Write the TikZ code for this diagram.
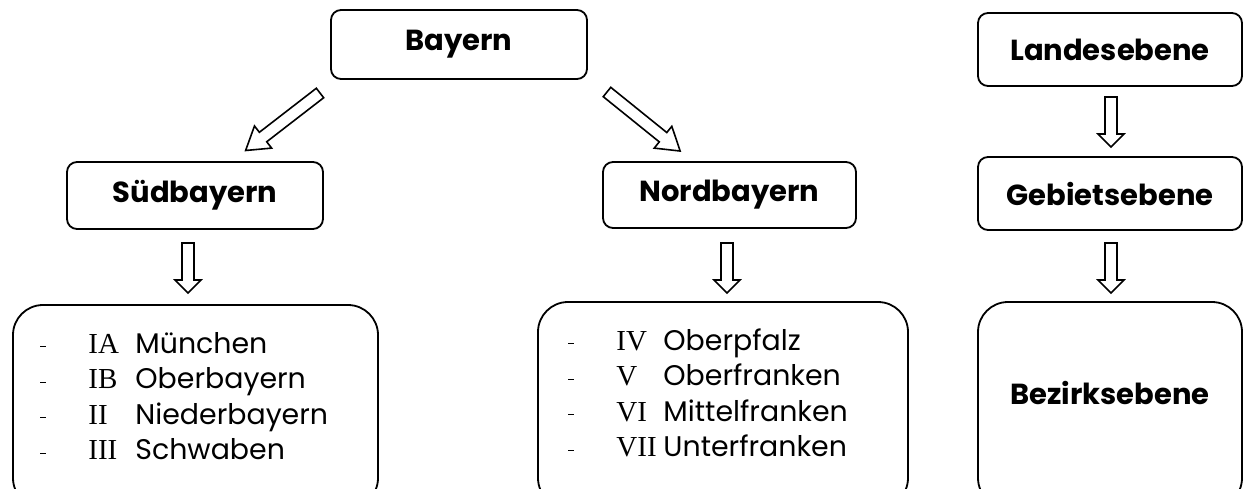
\documentclass[tikz,border=0pt]{standalone}
\usepackage{fontspec}
\setmainfont{Poppins}
\newfontfamily\romfont{Liberation Serif}

\newcommand{\eintrag}[2]{\makebox[24pt][l]{\rule[2.8pt]{2.6pt}{0.6pt}}\makebox[23.5pt][l]{\romfont\fontsize{14.5}{16}\selectfont #1}#2}

\tikzset{
  ebene/.style={draw, line width=0.9pt, rounded corners=5pt, inner sep=0pt,
    font=\fontsize{14.5}{17}\selectfont\bfseries},
  liste/.style={draw, line width=0.9pt, rounded corners=15pt, inner sep=0pt},
  eintrag/.style={anchor=base west, inner sep=0pt, font=\fontsize{14.2}{16}\selectfont},
  pfeilstil/.style={line width=0.8pt, line join=miter, fill=white},
  pics/pfeil/.style n args={3}{code={
    \draw[pfeilstil] (-3pt,0pt) -- (-3pt,-#1) -- (-#3,-#1) -- (0pt,{-#1-#2})
      -- (#3,-#1) -- (3pt,-#1) -- (3pt,0pt) -- cycle;
  }}
}

\begin{document}
\begin{tikzpicture}[x=0.5pt,y=-0.5pt]
  \useasboundingbox (0,0) rectangle (1247,488);
  \clip (0,0) rectangle (1247,488);

  \node[ebene, minimum width=128pt, minimum height=34.5pt] (bayern) at (459,44.5) {Bayern};
  \node[ebene, minimum width=128pt, minimum height=33.5pt] (sued) at (195,195.5) {Südbayern};
  \node[ebene, minimum width=126.5pt, minimum height=33pt] (nord) at (729.5,195) {Nordbayern};

  \node[ebene, minimum width=132pt, minimum height=36.5pt] (landes) at (1110,49.5) {Landesebene};
  \node[ebene, minimum width=132pt, minimum height=36.5pt] (gebiet) at (1110,193.5) {Gebietsebene};
  \node[liste, minimum width=132pt, minimum height=103pt] (bezirk) at (1110,405) {};
  \node[ebene, draw=none] (bezirktext) at (1110,393) {Bezirksebene};

  \node[liste, minimum width=182.5pt, minimum height=101.5pt] (suedliste) at (195.5,406.5) {};
  \node[liste, minimum width=185pt, minimum height=103pt] (nordliste) at (723,405) {};

  \node[eintrag] (s1) at (40,353) {\eintrag{IA}{München}};
  \node[eintrag] (s2) at (40,388.5) {\eintrag{IB}{Oberbayern}};
  \node[eintrag] (s3) at (40,424) {\eintrag{II}{Niederbayern}};
  \node[eintrag] (s4) at (40,459.5) {\eintrag{III}{Schwaben}};

  \node[eintrag] (n1) at (568,350) {\eintrag{IV}{Oberpfalz}};
  \node[eintrag] (n2) at (568,385.5) {\eintrag{V}{Oberfranken}};
  \node[eintrag] (n3) at (568,421) {\eintrag{VI}{Mittelfranken}};
  \node[eintrag] (n4) at (568,456.5) {\eintrag{VII}{Unterfranken}};

  \pic[rotate=-52.3] (pfeilsued) at (320,93) {pfeil={36pt}{11pt}{7pt}};
  \pic[rotate=51.1] (pfeilnord) at (607,92) {pfeil={36pt}{11pt}{7pt}};
  \pic (pfeilsliste) at (188,243) {pfeil={18.5pt}{6.5pt}{6.5pt}};
  \pic (pfeilnliste) at (727,243) {pfeil={18.5pt}{6.5pt}{6.5pt}};
  \pic (pfeilgebiet) at (1111,97) {pfeil={18.5pt}{6.5pt}{6.5pt}};
  \pic (pfeilbezirk) at (1111,243) {pfeil={18.5pt}{6.5pt}{6.5pt}};
\end{tikzpicture}
\end{document}
